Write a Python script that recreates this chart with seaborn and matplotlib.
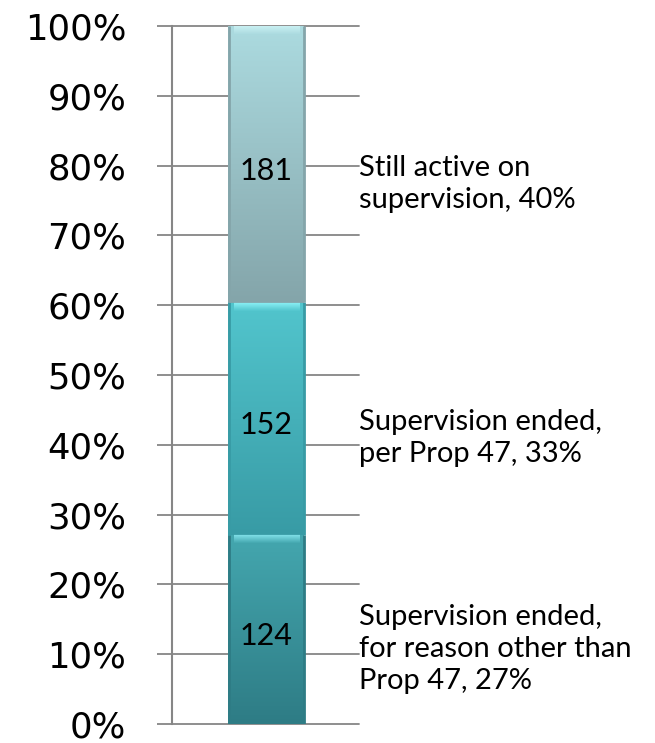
import numpy as np
import matplotlib
matplotlib.use("Agg")
import matplotlib.pyplot as plt
from matplotlib.colors import LinearSegmentedColormap
import seaborn as sns

# Segments, bottom to top
categories = [
    "Supervision ended,\nfor reason other than\nProp 47",
    "Supervision ended,\nper Prop 47",
    "Still active on\nsupervision",
]
counts = [124, 152, 181]
tick_labels = ["0%", "10%", "20%", "30%", "40%", "50%",
               "60%", "70%", "80%", "90%", "100%"]

# gradient colours per segment: (bottom, top, bevel highlight)
seg_colors = [
    ("#2e7c85", "#44a7af", "#86e6ee"),
    ("#389ba5", "#52c5cd", "#8ef3f8"),
    ("#84a5aa", "#acdbe0", "#cdf3f5"),
]
grid_col = "#868686"

total = sum(counts)
shares = np.array(counts) / total
tops = np.cumsum(shares)
bottoms = tops - shares
mids = (tops + bottoms) / 2

sns.set_theme(style="white")
plt.rcParams["font.family"] = ["Lato", "DejaVu Sans"]

fig = plt.figure(figsize=(6.55, 7.43), dpi=100)
ax = fig.add_axes([0.2626, 0.0256, 0.2855, 0.9394])

# stacked bar: draw cumulative heights, tallest first
for i in reversed(range(len(counts))):
    sns.barplot(x=["all"], y=[tops[i]], color=seg_colors[i][0], saturation=1,
                width=0.41, ax=ax, zorder=2, linewidth=0)

ax.set_xlim(-0.51, 0.5)
ax.set_ylim(0, 1)

# vertical gradient + bevel highlight on each segment
bar = ax.patches[0]
x0, w = bar.get_x(), bar.get_width()
grad = np.linspace(0, 1, 256).reshape(-1, 1)
for i in range(len(counts)):
    lo, hi, hl = seg_colors[i]
    cmap = LinearSegmentedColormap.from_list(f"seg{i}", [lo, hi])
    ax.imshow(grad, extent=[x0, x0 + w, bottoms[i], tops[i]], origin="lower",
              cmap=cmap, aspect="auto", zorder=3, interpolation="bilinear")
    bev = LinearSegmentedColormap.from_list(f"bev{i}", [hi, hl])
    ax.imshow(grad, extent=[x0 + w * 0.07, x0 + w * 0.93, tops[i] - 0.012, tops[i]],
              origin="lower", cmap=bev, aspect="auto", zorder=4, interpolation="bilinear")
    ax.vlines([x0 + 0.004, x0 + w - 0.004], bottoms[i], tops[i], color=lo, lw=2, zorder=4)
    ax.hlines(bottoms[i] + 0.002, x0, x0 + w, color=lo, lw=2, zorder=4)
ax.set_xlim(-0.51, 0.5)
ax.set_ylim(0, 1)

# value labels inside the bar
for i, c in enumerate(counts):
    ax.text(x0 + w / 2, mids[i] - 0.01, str(c), ha="center", va="center",
            fontsize=22, color="black", zorder=6)

# category labels to the right
for i, name in enumerate(categories):
    pct = int(round(shares[i] * 100))
    ax.text(1.0, mids[i] - 0.028, f"{name}, {pct}%", transform=ax.get_yaxis_transform(),
            ha="left", va="center", fontsize=21, color="black", linespacing=1.3,
            clip_on=False)

# axes styling
ax.set_yticks(np.linspace(0, 1, len(tick_labels)))
ax.set_yticklabels(tick_labels, fontsize=25.5, family="DejaVu Sans", color="black")
ax.set_xticks([])
ax.set_xlabel("")
ax.set_ylabel("")
ax.yaxis.grid(True, color=grid_col, lw=1.3)
ax.set_axisbelow(True)
for line in ax.get_ygridlines():
    line.set_clip_on(False)
ax.tick_params(axis="y", left=True, length=10.8, width=1.3, color=grid_col, pad=22)
for s in ["top", "right", "bottom"]:
    ax.spines[s].set_visible(False)
ax.spines["left"].set_color(grid_col)
ax.spines["left"].set_linewidth(1.5)

fig.savefig("out.png", dpi=100)
